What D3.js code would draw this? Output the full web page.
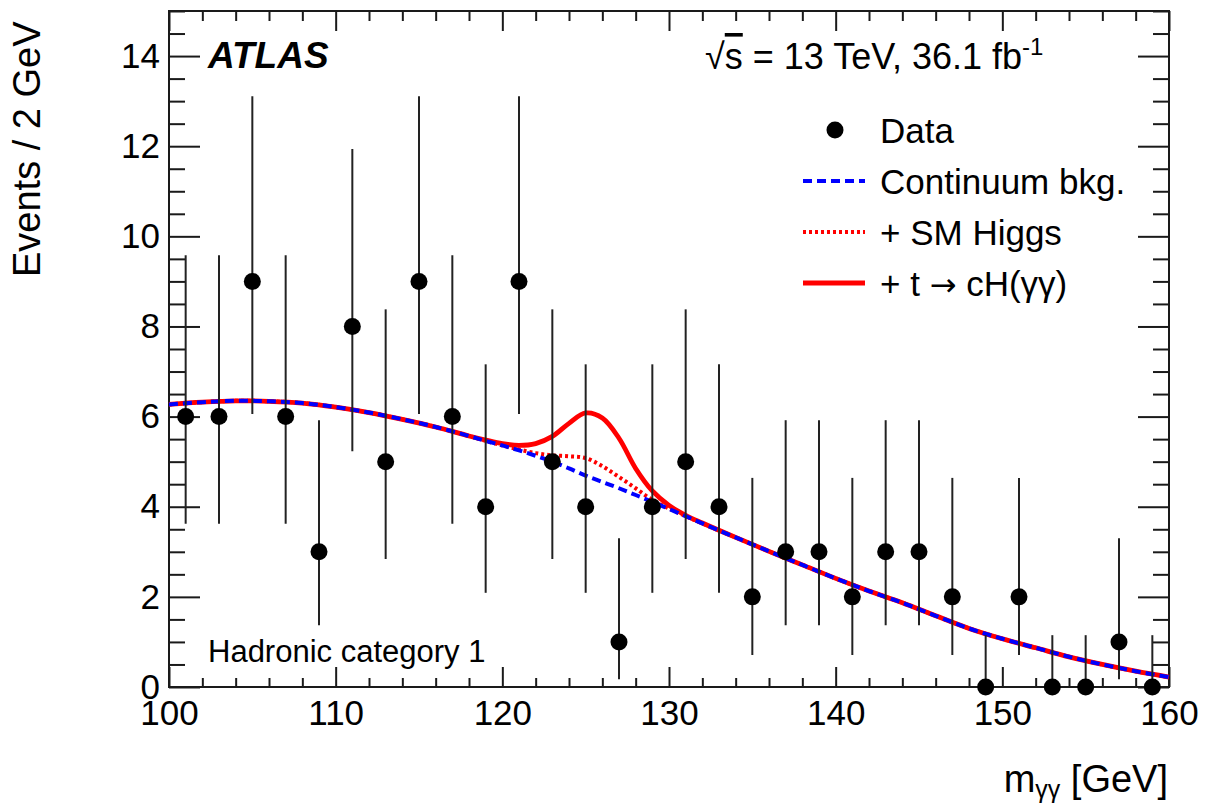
<!DOCTYPE html>
<html>
<head>
<meta charset="utf-8">
<script src="https://cdn.jsdelivr.net/npm/d3@7"></script>
<style>
  html, body { margin: 0; padding: 0; background: #fff; }
  svg { display: block; font-family: "Liberation Sans", Arial, Helvetica, sans-serif; }
</style>
</head>
<body>
<svg id="chart" width="1206" height="803"></svg>
<script>
// Diphoton invariant mass, hadronic category 1
const binCenters = [101,103,105,107,109,111,113,115,117,119,121,123,125,127,129,131,133,135,137,139,141,143,145,147,149,151,153,155,157,159];
const counts     = [6,6,9,6,3,8,5,9,6,4,9,5,4,1,4,5,4,2,3,3,2,3,3,2,0,2,0,0,1,0];
// Asymmetric (Poisson) uncertainties, per count value
const poissonLow  = {0:0, 1:0.83, 2:1.29, 3:1.63, 4:1.91, 5:2.16, 6:2.38, 8:2.77, 9:2.94};
const poissonHigh = {0:1.15, 1:2.30, 2:2.64, 3:2.92, 4:3.16, 5:3.38, 6:3.58, 8:3.94, 9:4.11};

// Fit curves sampled on a mass grid
const massGrid = [100,102,104,106,108,110,112,114,116,118,
                  119,120,121,122,123,124,125,126,127,128,129,130,131,132,
                  134,136,138,140,142,144,146,148,150,152,154,156,158,160];
const continuumBkg = [6.27,6.32,6.35,6.34,6.30,6.21,6.09,5.94,5.77,5.57,
                      5.46,5.36,5.25,5.13,5.00,4.85,4.69,4.55,4.41,4.26,4.11,3.95,3.79,3.63,
                      3.32,3.01,2.71,2.41,2.13,1.87,1.58,1.30,1.07,0.87,0.67,0.50,0.35,0.22];
const plusSMHiggs  = [6.27,6.32,6.35,6.34,6.30,6.21,6.09,5.94,5.77,5.57,
                      5.46,5.36,5.27,5.19,5.14,5.12,5.08,4.90,4.66,4.41,4.15,3.96,3.79,3.63,
                      3.32,3.01,2.71,2.41,2.13,1.87,1.58,1.30,1.07,0.87,0.67,0.50,0.35,0.22];
const plusTcH      = [6.27,6.32,6.35,6.34,6.30,6.21,6.09,5.94,5.77,5.57,
                      5.48,5.40,5.36,5.40,5.56,5.85,6.08,5.97,5.52,4.85,4.35,4.03,3.81,3.64,
                      3.32,3.01,2.71,2.41,2.13,1.87,1.58,1.30,1.07,0.87,0.67,0.50,0.35,0.22];

const xMajor = [100,110,120,130,140,150,160];
const xMinor = d3.range(100, 160.01, 2).filter(v => v % 10 !== 0);
const yMajor = [0,2,4,6,8,10,12,14];
const yMinor = d3.range(0, 15.01, 0.5).filter(v => v % 2 !== 0);

const legendItems = [
  {label: "Data", kind: "marker"},
  {label: "Continuum bkg.", kind: "dashed"},
  {label: "+ SM Higgs", kind: "dotted"},
  {label: "+ t \u2192 cH(\u03b3\u03b3)", kind: "solid"}
];

const svg = d3.select("#chart");
const L = 169, R = 1169, T = 11, B = 687;
const x = d3.scaleLinear().domain([100, 160]).range([L, R]);
const y = d3.scaleLinear().domain([0, 15]).range([B, T]);

const axisColor = "#1a1a1a";
const tickFont = 35;

function styleAxis(g) {
  g.select(".domain").remove();
  g.selectAll(".tick line").attr("stroke", axisColor).attr("stroke-width", 2);
  g.selectAll("text").attr("font-size", tickFont).attr("fill", "#000")
    .attr("font-family", "'Liberation Sans', Arial, sans-serif");
}

// Bottom axis
svg.append("g").attr("transform", `translate(0,${B})`)
  .call(d3.axisBottom(x).tickValues(xMajor).tickSize(-20).tickPadding(13).tickFormat(d3.format("d")))
  .call(styleAxis);
svg.append("g").attr("transform", `translate(0,${B})`)
  .call(d3.axisBottom(x).tickValues(xMinor).tickSize(-9).tickFormat(""))
  .call(styleAxis);
// Top axis
svg.append("g").attr("transform", `translate(0,${T})`)
  .call(d3.axisTop(x).tickValues(xMajor).tickSize(-20).tickFormat(""))
  .call(styleAxis);
svg.append("g").attr("transform", `translate(0,${T})`)
  .call(d3.axisTop(x).tickValues(xMinor).tickSize(-10).tickFormat(""))
  .call(styleAxis);
// Left axis
svg.append("g").attr("transform", `translate(${L},0)`)
  .call(d3.axisLeft(y).tickValues(yMajor).tickSize(-31).tickPadding(9).tickFormat(d3.format("d")))
  .call(styleAxis);
svg.append("g").attr("transform", `translate(${L},0)`)
  .call(d3.axisLeft(y).tickValues(yMinor).tickSize(-16).tickFormat(""))
  .call(styleAxis);
// Right axis
svg.append("g").attr("transform", `translate(${R},0)`)
  .call(d3.axisRight(y).tickValues(yMajor).tickSize(-31).tickFormat(""))
  .call(styleAxis);
svg.append("g").attr("transform", `translate(${R},0)`)
  .call(d3.axisRight(y).tickValues(yMinor).tickSize(-16).tickFormat(""))
  .call(styleAxis);

// Frame
svg.append("rect").attr("x", L).attr("y", T).attr("width", R - L).attr("height", B - T)
  .attr("fill", "none").attr("stroke", axisColor).attr("stroke-width", 2);

// Fit curves
const plot = svg.append("g");
const lineGen = vals => d3.line()
  .x((d, i) => x(massGrid[i]))
  .y(d => y(d))
  .curve(d3.curveCatmullRom.alpha(0.5))(vals);

const styles = {
  solid:  {stroke: "#ff0000", width: 4.8, dash: null},
  dotted: {stroke: "#ff0000", width: 4, dash: "3,3"},
  dashed: {stroke: "#0000ff", width: 4, dash: "9,5"}
};

plot.append("path").attr("d", lineGen(plusTcH))
  .attr("fill", "none").attr("stroke", styles.solid.stroke).attr("stroke-width", styles.solid.width);
plot.append("path").attr("d", lineGen(plusSMHiggs))
  .attr("fill", "none").attr("stroke", styles.dotted.stroke).attr("stroke-width", styles.dotted.width)
  .attr("stroke-dasharray", styles.dotted.dash);
plot.append("path").attr("d", lineGen(continuumBkg))
  .attr("fill", "none").attr("stroke", styles.dashed.stroke).attr("stroke-width", styles.dashed.width)
  .attr("stroke-dasharray", styles.dashed.dash);

// Data points with error bars
const pts = binCenters.map((m, i) => ({m, n: counts[i]}));
const dataG = svg.append("g");
dataG.selectAll("line.err").data(pts).join("line").attr("class", "err")
  .attr("x1", d => x(d.m)).attr("x2", d => x(d.m))
  .attr("y1", d => y(d.n - poissonLow[d.n]))
  .attr("y2", d => y(d.n + poissonHigh[d.n]))
  .attr("stroke", "#222").attr("stroke-width", 2);
dataG.selectAll("circle").data(pts).join("circle")
  .attr("cx", d => x(d.m)).attr("cy", d => y(d.n)).attr("r", 8.5).attr("fill", "#000");

// Labels
svg.append("text").attr("x", 208).attr("y", 68)
  .attr("font-size", 37).attr("font-weight", "bold").attr("font-style", "italic")
  .text("ATLAS");

const lumi = svg.append("text").attr("x", 705).attr("y", 69).attr("font-size", 36);
lumi.append("tspan").text("\u221A");
lumi.append("tspan").style("text-decoration", "overline").text("s");
lumi.append("tspan").text(" = 13 TeV, 36.1 fb");
lumi.append("tspan").attr("dy", -14).attr("font-size", 24).text("-1");

svg.append("text").attr("x", 208).attr("y", 662).attr("font-size", 31)
  .text("Hadronic category 1");

// Legend
const legG = svg.append("g");
const legY0 = 130, legDy = 51;
legendItems.forEach((it, i) => {
  const cy = legY0 + i * legDy;
  if (it.kind === "marker") {
    legG.append("circle").attr("cx", 835).attr("cy", cy).attr("r", 8.5).attr("fill", "#000");
  } else {
    const s = styles[it.kind];
    const ln = legG.append("line").attr("x1", 803).attr("x2", 865).attr("y1", cy).attr("y2", cy)
      .attr("stroke", s.stroke).attr("stroke-width", s.width);
    if (s.dash) ln.attr("stroke-dasharray", s.dash);
  }
  const t = legG.append("text").attr("x", 880).attr("y", cy).attr("dy", "0.36em").attr("font-size", 35);
  if (it.kind === "solid") {
    const parts = it.label.split("\u2192");
    t.append("tspan").text(parts[0]);
    t.append("tspan").attr("font-family", "'DejaVu Sans', sans-serif").attr("font-size", 32).text("\u2192");
    t.append("tspan").text(parts[1]);
  } else {
    t.text(it.label);
  }
});

// Axis titles
svg.append("text")
  .attr("transform", `translate(40,277) rotate(-90)`)
  .attr("font-size", 38).attr("text-anchor", "start")
  .text("Events / 2 GeV");

const xt = svg.append("text").attr("x", 1168).attr("y", 792).attr("text-anchor", "end").attr("font-size", 38);
xt.append("tspan").text("m");
xt.append("tspan").attr("font-size", 25).attr("dy", 6).text("\u03b3\u03b3");
xt.append("tspan").attr("dy", -6).text(" [GeV]");
</script>
</body>
</html>
